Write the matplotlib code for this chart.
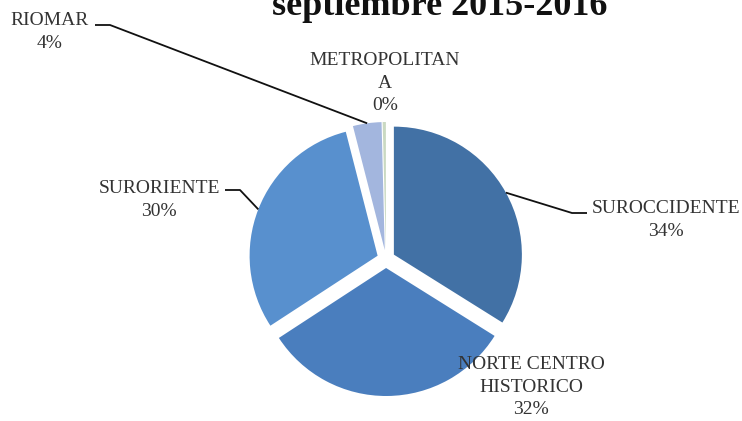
import numpy as np
import matplotlib.pyplot as plt

# datos (porcentajes por zona)
zonas = ["SUROCCIDENTE", "NORTE CENTRO\nHISTORICO", "SURORIENTE", "RIOMAR", "METROPOLITAN\nA"]
valores = [33.9, 31.9, 30.2, 3.6, 0.4]
colores = ["#4271A5", "#4A7EBE", "#5890CE", "#A3B6DE", "#CAD9C2"]

H = 421
fig = plt.figure(figsize=(7.42, 4.21), dpi=100)
ax = fig.add_axes([0, 0, 1, 1])

cx, cy, r = 386, H - 259, 128
wedges, _ = ax.pie(valores, colors=colores, startangle=90, counterclock=False,
                   center=(cx, cy), radius=r, explode=[9] * len(valores),
                   wedgeprops=dict(linewidth=0), frame=True)
ax.set_xlim(0, 742)
ax.set_ylim(0, H)
ax.set_aspect("equal")
ax.axis("off")

txt = dict(family="Liberation Serif", fontsize=14, color="#333333",
           ha="center", va="center", linespacing=1.4)

# posiciones de etiquetas (pixeles, y desde arriba) y quiebre de la guia
pos = [(666, 220), (531, 387), (159, 200), (50, 32), (385, 83)]
guia = [(587, 572, 213), None, (225, 240, 190), (95, 110, 25), None]

for w, z, v, p, g in zip(wedges, zonas, valores, pos, guia):
    ax.text(p[0], H - p[1], f"{z}\n{round(v)}%", **txt)
    if g is not None:
        ang = np.deg2rad((w.theta1 + w.theta2) / 2)
        wx, wy = w.center
        ex = wx + r * np.cos(ang)
        ey = wy + r * np.sin(ang)
        ax.plot([g[0], g[1], ex], [H - g[2], H - g[2], ey],
                color="#111111", lw=1.3, solid_capstyle="butt")

ax.text(440, H - 15, "septiembre 2015-2016", family="Liberation Serif",
        fontsize=26, fontweight="bold", ha="center", va="baseline", color="#111111")

fig.savefig("out.png", dpi=100, facecolor="white")
